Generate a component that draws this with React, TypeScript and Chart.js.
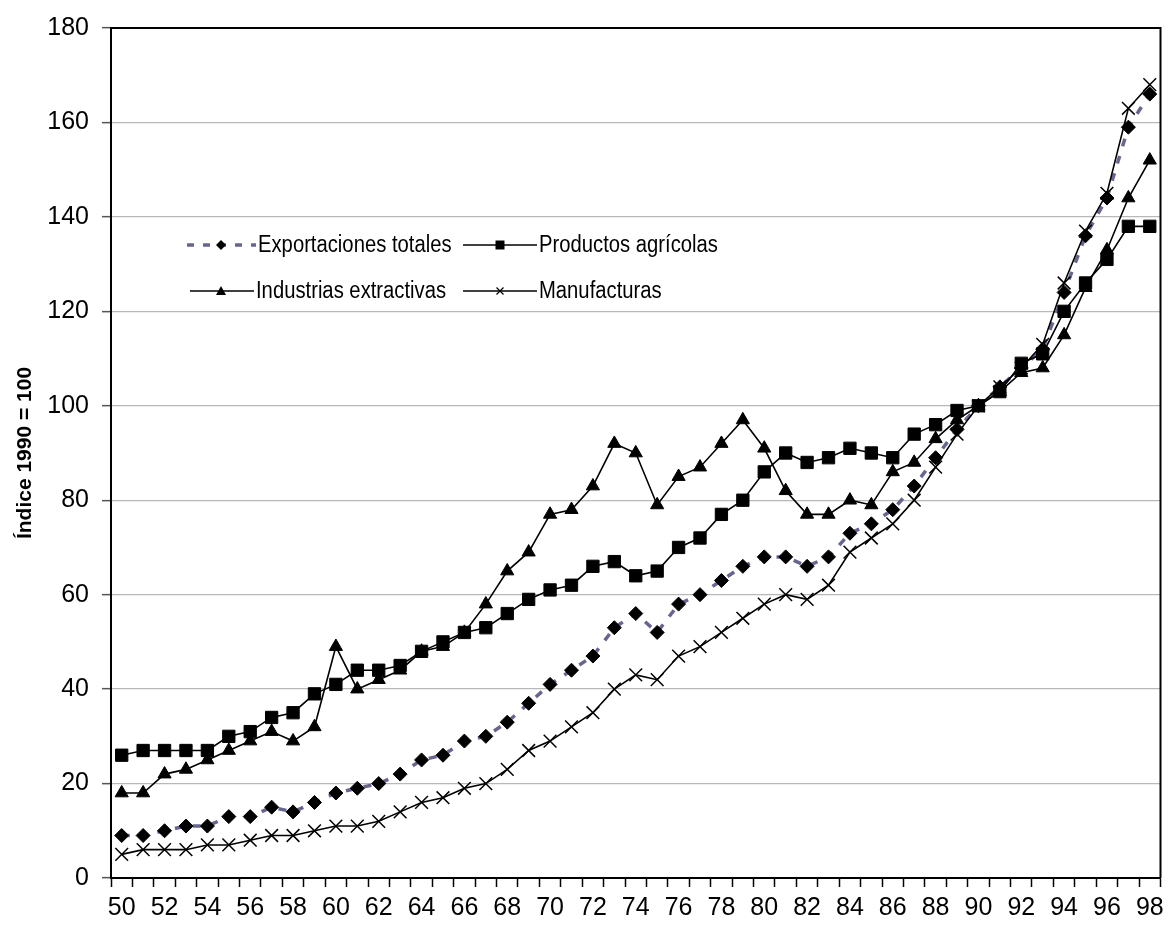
import React, { useEffect, useRef } from "react";
import { Chart, registerables } from "chart.js";

Chart.register(...registerables);

const years: string[] = [
  "50","51","52","53","54","55","56","57","58","59",
  "60","61","62","63","64","65","66","67","68","69",
  "70","71","72","73","74","75","76","77","78","79",
  "80","81","82","83","84","85","86","87","88","89",
  "90","91","92","93","94","95","96","97","98",
];

const exportacionesTotales: number[] = [
  9, 9, 10, 11, 11, 13, 13, 15, 14, 16,
  18, 19, 20, 22, 25, 26, 29, 30, 33, 37,
  41, 44, 47, 53, 56, 52, 58, 60, 63, 66,
  68, 68, 66, 68, 73, 75, 78, 83, 89, 95,
  100, 104, 108, 112, 124, 136, 144, 159, 166,
];

const productosAgricolas: number[] = [
  26, 27, 27, 27, 27, 30, 31, 34, 35, 39,
  41, 44, 44, 45, 48, 50, 52, 53, 56, 59,
  61, 62, 66, 67, 64, 65, 70, 72, 77, 80,
  86, 90, 88, 89, 91, 90, 89, 94, 96, 99,
  100, 103, 109, 111, 120, 126, 131, 138, 138,
];

const industriasExtractivas: number[] = [
  18, 18, 22, 23, 25, 27, 29, 31, 29, 32,
  49, 40, 42, 44, 48, 49, 52, 58, 65, 69,
  77, 78, 83, 92, 90, 79, 85, 87, 92, 97,
  91, 82, 77, 77, 80, 79, 86, 88, 93, 97,
  100, 103, 107, 108, 115, 125, 133, 144, 152,
];

const manufacturas: number[] = [
  5, 6, 6, 6, 7, 7, 8, 9, 9, 10,
  11, 11, 12, 14, 16, 17, 19, 20, 23, 27,
  29, 32, 35, 40, 43, 42, 47, 49, 52, 55,
  58, 60, 59, 62, 69, 72, 75, 80, 87, 94,
  100, 104, 108, 113, 126, 137, 145, 163, 168,
];

const seriesNames: string[] = [
  "Exportaciones totales",
  "Productos agrícolas",
  "Industrias extractivas",
  "Manufacturas",
];

const yAxisTitle = "Índice 1990 = 100";

const FONT = "'Liberation Sans', Arial, sans-serif";
const DASH_COLOR = "#666690";

function drawMarker(ctx: CanvasRenderingContext2D, style: string, x: number, y: number, r: number) {
  ctx.save();
  ctx.fillStyle = "#000";
  ctx.strokeStyle = "#000";
  ctx.lineWidth = 1.2;
  ctx.setLineDash([]);
  ctx.beginPath();
  if (style === "diamond") {
    ctx.moveTo(x, y - r);
    ctx.lineTo(x + r, y);
    ctx.lineTo(x, y + r);
    ctx.lineTo(x - r, y);
    ctx.closePath();
    ctx.fill();
  } else if (style === "square") {
    ctx.rect(x - r, y - r, 2 * r, 2 * r);
    ctx.fill();
  } else if (style === "triangle") {
    ctx.moveTo(x, y - r);
    ctx.lineTo(x + r, y + r * 0.8);
    ctx.lineTo(x - r, y + r * 0.8);
    ctx.closePath();
    ctx.fill();
  } else if (style === "cross") {
    ctx.moveTo(x - r, y - r);
    ctx.lineTo(x + r, y + r);
    ctx.moveTo(x + r, y - r);
    ctx.lineTo(x - r, y + r);
    ctx.stroke();
  }
  ctx.restore();
}

const legendPlugin = {
  id: "customLegend",
  afterDraw(chart: any) {
    const ctx: CanvasRenderingContext2D = chart.ctx;
    const items = [
      { name: seriesNames[0], x1: 187, x2: 256, mx: 221, y: 245, dashed: true, marker: "diamond", mr: 5 },
      { name: seriesNames[1], x1: 463, x2: 537, mx: 500, y: 245, dashed: false, marker: "square", mr: 4.5 },
      { name: seriesNames[2], x1: 190, x2: 254, mx: 221, y: 291, dashed: false, marker: "triangle", mr: 5 },
      { name: seriesNames[3], x1: 463, x2: 537, mx: 500, y: 291, dashed: false, marker: "cross", mr: 3.5 },
    ];
    ctx.save();
    for (const it of items) {
      ctx.beginPath();
      if (it.dashed) {
        ctx.strokeStyle = DASH_COLOR;
        ctx.lineWidth = 3.5;
        ctx.setLineDash([7, 9]);
      } else {
        ctx.strokeStyle = "#000";
        ctx.lineWidth = 1.5;
        ctx.setLineDash([]);
      }
      ctx.moveTo(it.x1, it.y);
      ctx.lineTo(it.x2, it.y);
      ctx.stroke();
      drawMarker(ctx, it.marker, it.mx, it.y, it.mr);
      ctx.fillStyle = "#000";
      ctx.font = `23px ${FONT}`;
      ctx.textBaseline = "middle";
      ctx.textAlign = "left";
      const tx = it.x2 + 2;
      ctx.save();
      ctx.translate(tx, it.y + 1);
      ctx.scale(0.88, 1);
      ctx.fillText(it.name, 0, 0);
      ctx.restore();
    }
    ctx.restore();
  },
};

const framePlugin = {
  id: "frame",
  afterDraw(chart: any) {
    const { ctx, chartArea } = chart;
    ctx.save();
    ctx.strokeStyle = "#000";
    ctx.lineWidth = 2;
    ctx.setLineDash([]);
    ctx.beginPath();
    ctx.moveTo(chartArea.left, chartArea.top);
    ctx.lineTo(chartArea.right, chartArea.top);
    ctx.lineTo(chartArea.right, chartArea.bottom);
    ctx.stroke();
    ctx.restore();
  },
};

export default function App() {
  const canvasRef = useRef<HTMLCanvasElement | null>(null);

  useEffect(() => {
    const canvas = canvasRef.current;
    if (!canvas) return;
    const chart = new Chart(canvas, {
      type: "line",
      data: {
        labels: years,
        datasets: [
          {
            label: seriesNames[0],
            data: exportacionesTotales,
            borderColor: DASH_COLOR,
            borderWidth: 3.5,
            borderDash: [8, 10],
            pointStyle: "rectRot",
            pointRadius: 7,
            pointBackgroundColor: "#000",
            pointBorderColor: "#000",
            pointBorderWidth: 1,
            tension: 0,
            order: 5,
          },
          {
            label: seriesNames[1],
            data: productosAgricolas,
            borderColor: "#000",
            borderWidth: 1.6,
            pointStyle: "rect",
            pointRadius: 8.7,
            pointBackgroundColor: "#000",
            pointBorderColor: "#000",
            pointBorderWidth: 1,
            tension: 0,
            order: 1,
          },
          {
            label: seriesNames[2],
            data: industriasExtractivas,
            borderColor: "#000",
            borderWidth: 1.6,
            pointStyle: "triangle",
            pointRadius: 7.6,
            pointBackgroundColor: "#000",
            pointBorderColor: "#000",
            pointBorderWidth: 1,
            tension: 0,
            order: 2,
          },
          {
            label: seriesNames[3],
            data: manufacturas,
            borderColor: "#000",
            borderWidth: 1.6,
            pointStyle: "crossRot",
            pointRadius: 9,
            pointBackgroundColor: "#000",
            pointBorderColor: "#000",
            pointBorderWidth: 1.5,
            tension: 0,
            order: 3,
          },
        ],
      },
      options: {
        responsive: false,
        animation: false,
        events: [],
        layout: { padding: { top: 25, right: 6, left: 0, bottom: 0 } },
        plugins: {
          legend: { display: false },
          tooltip: { enabled: false },
          title: { display: false },
        },
        scales: {
          x: {
            type: "category",
            offset: true,
            grid: {
              display: true,
              drawOnChartArea: false,
              offset: true,
              tickLength: 9,
              tickColor: "#000",
              tickWidth: 1.5,
            },
            border: { display: true, color: "#000", width: 2 },
            ticks: {
              autoSkip: false,
              maxRotation: 0,
              minRotation: 0,
              padding: 6,
              color: "#000",
              font: { family: FONT, size: 25 },
              callback: (_v: any, i: number) => (i % 2 === 0 ? years[i] : ""),
            },
            afterFit: (scale: any) => {
              scale.height = 53;
            },
          },
          y: {
            min: 0,
            max: 180,
            grid: {
              color: "#b8b8b8",
              lineWidth: 1.3,
              tickLength: 9,
              tickColor: "#555",
              tickWidth: 1.5,
            },
            border: { display: true, color: "#000", width: 2 },
            ticks: {
              stepSize: 20,
              padding: 13,
              color: "#000",
              font: { family: FONT, size: 25 },
            },
            title: {
              display: true,
              text: yAxisTitle,
              color: "#000",
              font: { family: FONT, size: 21, weight: "bold" },
              padding: { top: 13, bottom: 0 },
            },
            afterFit: (scale: any) => {
              scale.width = 111;
            },
          },
        },
      },
      plugins: [framePlugin, legendPlugin],
    });
    return () => chart.destroy();
  }, []);

  return (
    <div style={{ position: "fixed", left: 0, top: 0, width: 1171, height: 931, background: "#fff" }}>
      <canvas ref={canvasRef} width={1171} height={931} style={{ width: 1171, height: 931, display: "block" }} />
    </div>
  );
}
